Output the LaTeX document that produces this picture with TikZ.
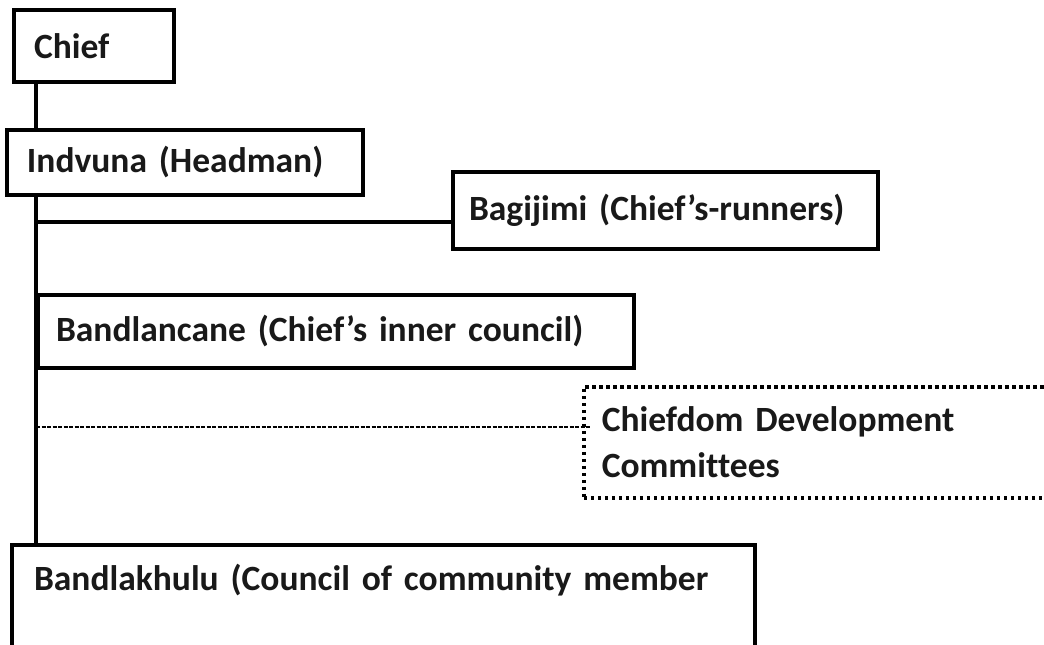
\documentclass[tikz,border=0pt]{standalone}
\usepackage{fontspec}
\setmainfont{Carlito}[WordSpace=0.7, Ligatures=NoCommon]
\begin{document}
\begin{tikzpicture}[x=1pt,y=-1pt,
  box/.style={draw=black, line width=4pt, anchor=north west, align=left,
    inner ysep=0pt, font=\bfseries\fontsize{35.5}{46}\selectfont, text=black!90},
  dotbox/.style={box, line width=3.5pt, dash pattern=on 3.5pt off 3.5pt},
  link/.style={line width=4pt},
  thinlink/.style={line width=1.3pt, dash pattern=on 4pt off 1.5pt}]
\useasboundingbox (0,0) rectangle (1044,645);
\clip (0,0) rectangle (1044,645);
\fill[white] (0,0) rectangle (1044,645);
\node[box, text width=120pt, inner xsep=20pt, minimum height=72pt] (chief) at (12,8) {Chief};
\node[box, text width=316pt, inner xsep=20pt, minimum height=65pt] (indvuna) at (5,128) {Indvuna (Headman)};
\node[box, text width=393pt, inner xsep=16pt, minimum height=77pt] (bagijimi) at (451,170) {Bagijimi (Chief’s-runners)};
\node[box, text width=560pt, inner xsep=18pt, minimum height=73pt] (bandlancane) at (36,293) {Bandlancane (Chief’s inner council)};
\node[dotbox, text width=464pt, inner xsep=18pt, minimum height=111pt] (chiefdom) at (582,385) {Chiefdom Development\\Committees};
\node[box, text width=699pt, inner xsep=22pt, minimum height=150pt] (bandlakhulu) at (10,543) {Bandlakhulu (Council of community member\\[40pt]\mbox{}};
\coordinate (spine) at (36,0);
\coordinate (bagy) at (0,222);
\coordinate (devy) at (0,427);
\draw[link] (chief.south -| spine) -- (indvuna.north -| spine);
\draw[link] (indvuna.south -| spine) -- (bandlakhulu.north -| spine);
\draw[link] (spine |- bagy) -- (bagijimi.west |- bagy);
\draw[thinlink] (spine |- devy) -- ([xshift=8pt]chiefdom.west |- devy);
\end{tikzpicture}
\end{document}
